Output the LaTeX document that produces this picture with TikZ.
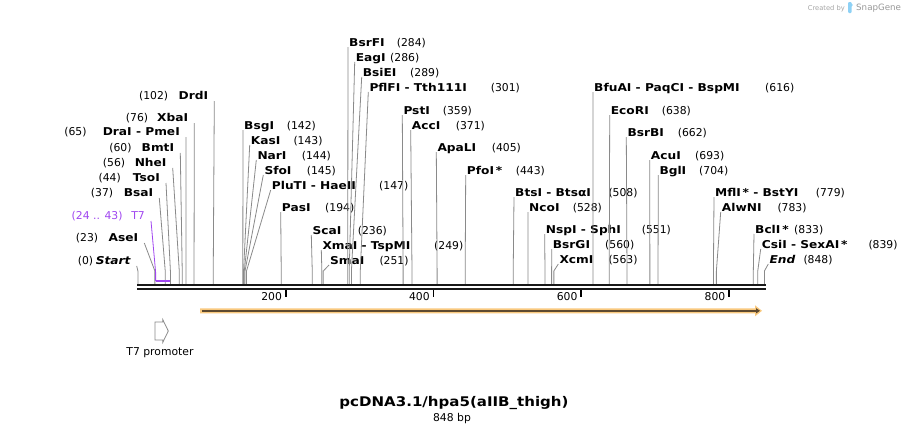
\documentclass[tikz,border=0pt]{standalone}
\usepackage{fontspec}
\setmainfont{DejaVu Sans}
\newfontfamily\enzfont{DejaVu Sans}[FakeStretch=1.13]
\usetikzlibrary{arrows.meta}
\definecolor{leadgray}{HTML}{8A8A8A}
\definecolor{t7purple}{HTML}{A046F0}
\definecolor{featfill}{HTML}{F9C97E}
\definecolor{featline}{HTML}{5E4A30}
\definecolor{logoblue}{HTML}{8ED1F5}

\begin{document}
\begin{tikzpicture}[x=1pt,y=-1pt,
  enz/.style={font=\enzfont\fontsize{10.8}{13}\selectfont\bfseries, inner sep=0pt},
  cutnum/.style={font=\fontsize{10.8}{13}\selectfont, inner sep=0pt},
  lead/.style={leadgray, line width=0.8pt},
  backbone/.style={black!90, line width=2.2pt}]
\fill[white] (0,0) rectangle (905,434);
\useasboundingbox (0,0) rectangle (905,434);

% Watermark
\node[font=\fontsize{6.7}{8}\selectfont, text=black!35, anchor=base east, inner sep=0pt] (crby) at (845,10) {Created by};
\fill[logoblue, rounded corners=1pt] (848,2) rectangle (851.5,13);
\fill[logoblue] (851,5) circle (1.8);
\node[font=\fontsize{8.7}{10}\selectfont, text=black!40, anchor=base west, inner sep=0pt] (snap) at (856,10) {SnapGene};

% Sites labelled to the right of their line
\foreach \id/\nm/\nx/\ux/\ly/\bp in {
    bsgi/BsgI/244/286.7/125/142, kasi/KasI/250.7/293.3/140/143,
    nari/NarI/257.3/301.7/155/144, sfoi/SfoI/264.3/306.7/170/145,
    pluti/{PluTI - HaeII}/271.7/379/185/147, pasi/PasI/281.7/325/207/194,
    scai/ScaI/312.3/357.7/230/236, xmai/{XmaI - TspMI}/322.3/434/245/249,
    smai/SmaI/330/379.3/260/251, bsrfi/BsrFI/349/396.7/42/284,
    eagi/EagI/355.7/390/57/286, bsiei/BsiEI/362.7/410/72/289,
    pflfi/{PflFI - Tth111I}/369.3/490.7/87/301, psti/PstI/403.3/442.7/110/359,
    acci/AccI/411.7/455.7/125/371, apali/ApaLI/437.3/491.7/147/405,
    pfoi/{PfoI\,*}/466.7/515.7/170/443, btsi/{BtsI - BtsαI}/515/608.3/192/508,
    ncoi/NcoI/529/572.7/207/528, nspi/{NspI - SphI}/545.7/641.7/229/551,
    bsrgi/BsrGI/552.7/605/244/560, xcmi/XcmI/559.3/608.3/259/563,
    bfuai/{BfuAI - PaqCI - BspMI}/594/765/87/616, ecori/EcoRI/610.7/661.7/110/638,
    bsrbi/BsrBI/627.3/677.7/132/662, acui/AcuI/650.7/695/155/693,
    bgli/BglI/659.3/699/170/704, mfli/{MflI\,* - BstYI}/715/815.7/192/779,
    alwni/AlwNI/721.7/777.3/207/783, bcli/{BclI\,*}/755/794/229/833,
    csii/{CsiI - SexAI\,*}/761.7/868.3/244/839, seqend/{\itshape End}/769.3/803.3/259/848}{
  \node[enz, anchor=base west] (\id) at (\nx,\ly+4) {\nm};
  \node[cutnum, anchor=base west] (\id-n) at (\ux,\ly+4) {(\bp)};
  \coordinate (\id-b) at (137.9+0.7388*\bp,271);
  \coordinate (\id-s) at (137.9+0.7388*\bp,284);
  \draw[lead] ([shift={(-1,1)}]\id.base west) -- (\id-b) -- (\id-s);
}

% Sites labelled to the left of their line
\foreach \id/\nm/\nr/\ur/\ly/\bp in {
    seqstart/{\itshape Start}/130.7/93.3/260/0, asei/AseI/138.3/98.3/237/23,
    bsai/BsaI/153.3/113.3/192/37, tsoi/TsoI/160/121/177/44,
    nhei/NheI/166.7/125.3/162/56, bmti/BmtI/174.3/131.7/147/60,
    drai/{DraI - PmeI}/180/86.7/131/65, xbai/XbaI/188.3/148.3/117/76,
    drdi/DrdI/208.3/168.3/95/102}{
  \node[enz, anchor=base east] (\id) at (\nr,\ly+4) {\nm};
  \node[cutnum, anchor=base east] (\id-n) at (\ur,\ly+4) {(\bp)};
  \coordinate (\id-b) at (137.9+0.7388*\bp,271);
  \coordinate (\id-s) at (137.9+0.7388*\bp,284);
  \draw[lead] ([shift={(6,2)}]\id.base east) -- (\id-b) -- (\id-s);
}

% T7 feature
\node[cutnum, text=t7purple, anchor=base east] (t7) at (145,219) {T7};
\node[cutnum, text=t7purple, anchor=base east] (t7-n) at (122.7,219) {(24 .. 43)};
\coordinate (t7-b) at (155.6,272);
\coordinate (t7-s) at (155.6,281);
\coordinate (t7-e) at (169.7,281);
\draw[t7purple, line width=0.8pt] ([shift={(6,2)}]t7.base east) -- (t7-b) -- (t7-s);
\draw[t7purple, line width=2.2pt] (t7-s) -- (t7-e);

% Sequence
\draw[backbone] (137,284.8) -- (766,284.8);
\draw[backbone, line width=2pt] (137,289.3) -- (766,289.3);

% Ruler
\foreach \t in {200,400,600,800}{
  \coordinate (tick\t) at (137.9+0.7388*\t,290);
  \draw[black, line width=1.8pt] (tick\t) -- ++(0,7);
  \node[cutnum, anchor=east] (lab\t) at ([shift={(-3.5,6.8)}]tick\t) {\t};
}

% Feature arrow
\fill[featfill] (200,308.3) -- (755,308.3) -- (755,305.3) -- (762,310.8) -- (755,316.3) -- (755,313.3) -- (200,313.3) -- cycle;
\draw[featline, line width=1.8pt, -{Triangle[length=4pt,width=5pt]}] (202,310.8) -- (760,310.8);

% Promoter
\draw[leadgray, line width=0.8pt] (155,322) -- (162.7,322) -- (162.7,319.5) -- (168.3,331) -- (162.7,342.5) -- (162.7,340) -- (155,340) -- cycle;
\node[cutnum] (t7prom) at (160,352.5) {T7 promoter};

% Title
\node[font=\enzfont\fontsize{13.3}{16}\selectfont\bfseries, inner sep=0pt] (title) at (454,403.3) {pcDNA3.1/hpa5(aIIB\_thigh)};
\node[cutnum] (size) at (452,418.3) {848 bp};
\end{tikzpicture}
\end{document}
